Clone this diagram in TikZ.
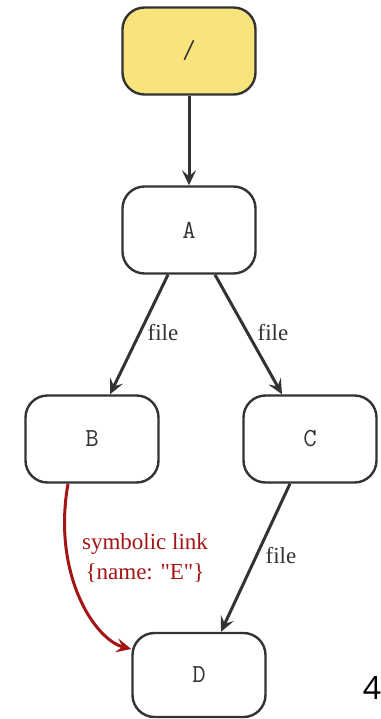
\documentclass[tikz,border=0pt]{standalone}
\usepackage{fontspec}
\setmainfont{Liberation Serif}
\newfontfamily\linkfont{Liberation Serif}
\newfontfamily\pagefont{Open Sans}
\usetikzlibrary{arrows.meta,calc}
\definecolor{ink}{HTML}{333333}
\definecolor{rootfill}{HTML}{F9E37C}
\definecolor{linkred}{HTML}{A51414}
\tikzset{
  dirbox/.style={draw=ink, line width=2.4pt, rounded corners=22pt,
    minimum width=133pt, minimum height=87pt, inner sep=0pt,
    font=\ttfamily\fontsize{26}{28}\selectfont, text=ink, fill=white},
  edge/.style={draw=ink, line width=3pt,
    -{Stealth[length=15pt, width=14pt, inset=6pt]}},
  linkedge/.style={draw=linkred, line width=3pt,
    -{Stealth[length=15pt, width=14pt, inset=6pt]}},
  elabel/.style={font=\fontsize{23}{25}\selectfont, text=ink},
}
\begin{document}
\begin{tikzpicture}[x=1pt, y=-1pt]
  \useasboundingbox (0,0) rectangle (380,719);
  % directory tree nodes
  \node[dirbox, fill=rootfill] (root) at (189,51) {/};
  \node[dirbox] (A) at (189,230) {A};
  \node[dirbox] (B) at (92,439) {B};
  \node[dirbox] (C) at (310,439) {C};
  \node[dirbox, minimum height=84pt] (D) at (199,675) {D};
  % file edges
  \draw[edge] (root) -- (A);
  \draw[edge] ($(A.south)+(-21,0)$) -- ($(B.north)+(18,0)$);
  \draw[edge] ($(A.south)+(26,0)$) -- ($(C.north)+(-28,0)$);
  \draw[edge] ($(C.south)+(-20,0)$) -- ($(D.north)+(22,0)$);
  \node[elabel] (lab1) at (163,333) {file};
  \node[elabel] (lab2) at (273,333) {file};
  \node[elabel] (lab3) at (281,556) {file};
  % symbolic link
  \draw[linkedge] ($(B.south)+(-24,0)$) .. controls (52,575) and (95,640) .. (D.159);
  \node[font=\linkfont\fontsize{23}{30}\selectfont, text=linkred, align=center] (slabel) at (145,558)
    {symbolic link\\\{name: "E"\}};
  % page number
  \node[font=\pagefont\fontsize{32}{34}\selectfont, text=black] (pg) at (372,688) {4};
\end{tikzpicture}
\end{document}
